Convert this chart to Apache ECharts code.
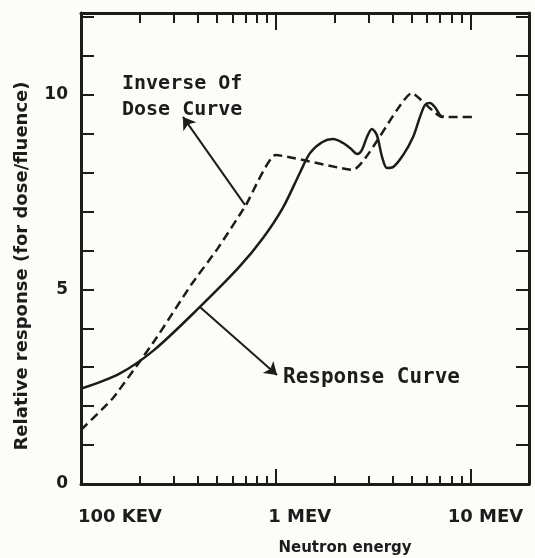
<!DOCTYPE html>
<html>
<head>
<meta charset="utf-8">
<script src="https://cdn.jsdelivr.net/npm/echarts@6/dist/echarts.min.js"></script>
<style>
  html, body { margin: 0; padding: 0; background: #fcfcf9; }
  #chart { width: 535px; height: 558px; }
</style>
</head>
<body>
<div id="chart"></div>
<script>
// energies in MeV, response in relative units
const doseEnergy = [0.1, 0.146, 0.24, 0.367, 0.505, 0.704, 1.0, 2.49, 5.01, 7.15, 10.2];
const doseValue = [1.39, 2.21, 3.70, 5.11, 6.06, 7.17, 8.45, 8.07, 10.04, 9.43, 9.43];

const respEnergy = [0.1, 0.157, 0.237, 0.408, 0.648, 0.861, 1.09, 1.33, 1.5, 1.73, 1.97, 2.22, 2.41, 2.62,
  2.77, 2.94, 3.12, 3.31, 3.52, 3.73, 4.0, 4.51, 5.07, 5.51, 5.85, 6.2, 6.58, 6.98, 7.3];
const respValue = [2.45, 2.83, 3.44, 4.55, 5.57, 6.32, 7.1, 7.99, 8.5, 8.78, 8.86, 8.76, 8.63, 8.48,
  8.58, 8.91, 9.12, 8.96, 8.4, 8.12, 8.14, 8.45, 8.91, 9.43, 9.74, 9.79, 9.68, 9.48, 9.43];

const majorTicks = [1, 10];
const minorTicks = [0.2, 0.3, 0.4, 0.5, 0.6, 0.7, 0.8, 0.9, 2, 3, 4, 5, 6, 7, 8, 9];
const energyLabelValues = [0.1, 1, 10];
const energyLabelText = ["100 KEV", "1 MEV", "10 MEV"];
const yTicks = [0, 1, 2, 3, 4, 5, 6, 7, 8, 9, 10, 11, 12];
const yLabels = [0, 5, 10];

// arrow annotations: [tail, head] in data coords
const doseArrow = [[0.695, 7.17], [0.334, 9.43]];
const respArrow = [[0.408, 4.55], [1.016, 2.8]];

const ink = "#1c1c1c";
const labelFont = "DejaVu Sans";
const monoFont = "DejaVu Sans Mono";

const chart = echarts.init(document.getElementById("chart"));

function energyAxis(pos, ticks, len, withLine, withLabels) {
  return {
    type: "log",
    logBase: 10,
    min: 0.1,
    max: 20,
    position: pos,
    axisLine: { show: withLine, lineStyle: { color: ink, width: 3 } },
    axisTick: { show: true, inside: true, length: len, customValues: ticks, lineStyle: { color: ink, width: 2 } },
    axisLabel: withLabels
      ? {
          show: true,
          customValues: energyLabelValues,
          margin: 24,
          formatter: (v) => {
            const i = Math.round(Math.log10(v)) + 1;
            return "{s" + i + "|" + energyLabelText[i] + "}";
          },
          rich: {
            s0: { padding: [0, 0, 0, 78], fontFamily: labelFont, fontWeight: "bold", fontSize: 18, color: ink },
            s1: { padding: [0, 0, 0, 48], fontFamily: labelFont, fontWeight: "bold", fontSize: 18, color: ink },
            s2: { padding: [0, 0, 0, 30], fontFamily: labelFont, fontWeight: "bold", fontSize: 18, color: ink },
          },
        }
      : { show: false },
    splitLine: { show: false },
  };
}

function valueAxis(pos, withLabels) {
  return {
    type: "value",
    min: 0,
    max: 12.1,
    position: pos,
    axisLine: { show: true, lineStyle: { color: ink, width: 3 } },
    axisTick: { show: true, inside: true, length: 13, customValues: yTicks, lineStyle: { color: ink, width: 2 } },
    axisLabel: withLabels
      ? { show: true, customValues: yLabels, margin: 13, fontFamily: labelFont, fontWeight: "bold", fontSize: 17, color: ink }
      : { show: false },
    splitLine: { show: false },
  };
}

const arrowLine = (pts) => [
  { coord: pts[0], symbol: "none" },
  { coord: pts[1], symbol: "arrow" },
];

chart.setOption({
  backgroundColor: "#fcfcf9",
  animation: false,
  grid: { left: 81, right: 6, top: 13, bottom: 74, containLabel: false, outerBoundsMode: "none" },
  xAxis: [
    energyAxis("bottom", majorTicks, 15, true, true),
    energyAxis("bottom", minorTicks, 8, false, false),
    energyAxis("top", majorTicks, 17, true, false),
    energyAxis("top", minorTicks, 10, false, false),
  ],
  yAxis: [valueAxis("left", true), valueAxis("right", false)],
  series: [
    {
      name: "Inverse Of Dose Curve",
      type: "line",
      showSymbol: false,
      smooth: 0.15,
      data: doseEnergy.map((e, i) => [e, doseValue[i]]),
      lineStyle: { color: ink, width: 2.5, type: [9, 5] },
      markLine: {
        silent: true,
        symbolSize: 12,
        label: { show: false },
        lineStyle: { color: ink, width: 2, type: "solid" },
        data: [arrowLine(doseArrow), arrowLine(respArrow)],
      },
    },
    {
      name: "Response Curve",
      type: "line",
      showSymbol: false,
      smooth: 0.3,
      data: respEnergy.map((e, i) => [e, respValue[i]]),
      lineStyle: { color: ink, width: 2.5 },
    },
  ],
  graphic: [
    {
      type: "text",
      left: 122,
      top: 71,
      style: { text: "Inverse Of\nDose Curve", font: "bold 20px " + monoFont, lineHeight: 26, fill: ink },
    },
    {
      type: "text",
      left: 283,
      top: 367,
      style: { text: "Response Curve", font: "bold 21px " + monoFont, fill: ink },
    },
    {
      type: "text",
      x: 22,
      y: 266,
      rotation: Math.PI / 2,
      style: {
        text: "Relative response (for dose/fluence)",
        font: "bold 18px " + labelFont,
        align: "center",
        verticalAlign: "middle",
        fill: ink,
      },
    },
    {
      type: "text",
      x: 345,
      y: 548,
      style: { text: "Neutron energy", font: "bold 15px " + labelFont, align: "center", verticalAlign: "middle", fill: ink },
    },
  ],
});
</script>
</body>
</html>
